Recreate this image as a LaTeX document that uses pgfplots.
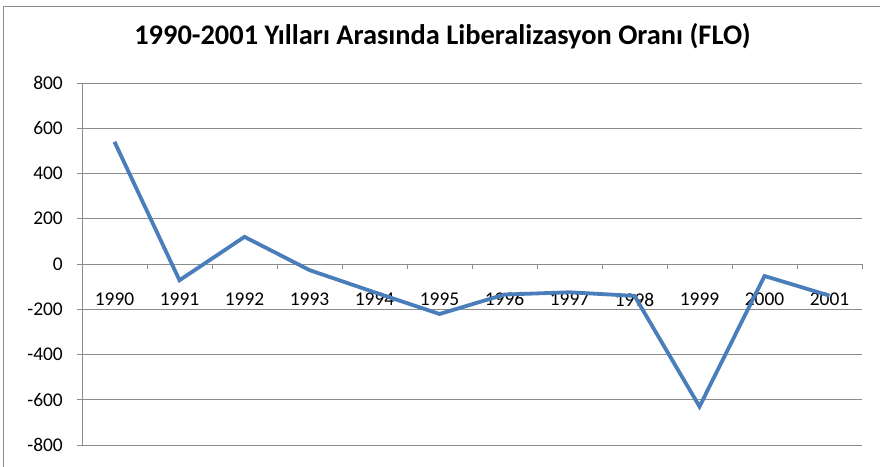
\documentclass[border=0pt]{standalone}
\usepackage{fontspec}
\setmainfont{Carlito}
\usepackage{pgfplots}
\pgfplotsset{compat=1.18}
\definecolor{excelblue}{HTML}{4A7EBB}
\definecolor{gridgray}{HTML}{8C8C8C}

\begin{document}
\begin{tikzpicture}
\useasboundingbox (0,0) rectangle (880bp,467bp);
% chart frame (only left and top edges are in view)
\draw[gridgray, line width=1bp] (3.5bp,-10bp) -- (3.5bp,460bp) -- (890bp,460bp);
\begin{axis}[
    at={(82bp,22bp)}, anchor=south west,
    width=780bp, height=362bp, scale only axis,
    xmin=0.5, xmax=12.5,
    ymin=-800, ymax=800,
    axis y line=left, axis x line=middle,
    axis line style={-, draw=gridgray, line width=0.9bp},
    ymajorgrids, grid style={draw=gridgray, line width=0.9bp},
    ytick={-800,-600,-400,-200,0,200,400,600,800},
    yticklabels={-800,-600,-400,-200,0,200,400,600,800},
    ytick align=outside,
    xtick={1,...,12},
    xticklabels={1990,1991,1992,1993,1994,1995,1996,1997,1998,1999,2000,2001},
    major x tick style={draw=none},
    extra x ticks={0.5,1.5,...,12.5},
    extra x tick labels={},
    extra x tick style={xtick align=outside, major tick length=5bp,
        major x tick style={draw=gridgray, line width=0.9bp}},
    major tick length=5bp,
    tick style={draw=gridgray, line width=0.9bp},
    x tick label style={anchor=center, yshift=-33bp, font=\fontsize{19.5}{22}\selectfont},
    y tick label style={anchor=east, inner sep=0pt, xshift=-14bp, font=\fontsize{19.5}{22}\selectfont},
    title={\textbf{1990-2001 Yılları Arasında Liberalizasyon Oranı (FLO)}},
    title style={at={(0.462,1)}, anchor=center, yshift=41bp, font=\fontsize{28.5}{32}\selectfont},
    clip=false,
]
\addplot[excelblue, line width=3.8bp, line join=miter] coordinates {
    (1,540) (2,-72) (3,120) (4,-27) (5,-125) (6,-221)
    (7,-135) (8,-125) (9,-141) (10,-630) (11,-53) (12,-140)
};
\end{axis}
\end{tikzpicture}
\end{document}
